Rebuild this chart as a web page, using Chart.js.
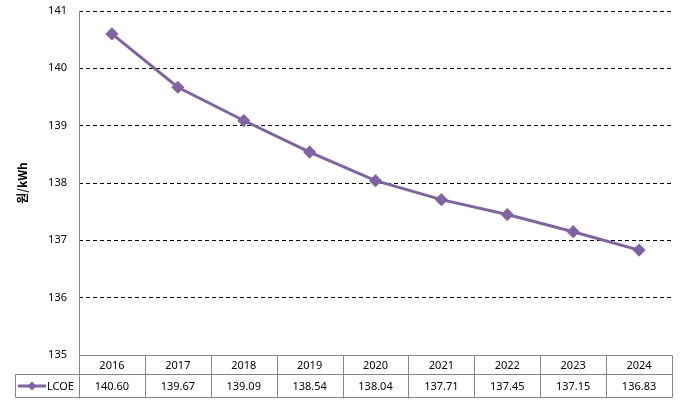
<!DOCTYPE html>
<html>
<head>
<meta charset="utf-8">
<script src="https://cdn.jsdelivr.net/npm/chart.js@4"></script>
<style>
  html, body { margin: 0; padding: 0; background: #fff; }
</style>
</head>
<body>
<canvas id="chartLcoe" width="680" height="403"></canvas>
<script>
// ===============================
// DADOS
// ===============================
const years = ["2016", "2017", "2018", "2019", "2020", "2021", "2022", "2023", "2024"];
const lcoe = [140.60, 139.67, 139.09, 138.54, 138.04, 137.71, 137.45, 137.15, 136.83];
const yTicks = [135, 136, 137, 138, 139, 140, 141];
const seriesName = "LCOE";
const yTitle = "원/kWh";

const lineColor = "#8064A2";
const borderGray = "#868686";
const font = "11px 'Noto Sans', 'DejaVu Sans', sans-serif";

// ===============================
// TABELA DE DADOS + TITULO Y
// ===============================
const dataTable = {
    id: "dataTable",
    beforeDatasetsDraw(chart) {
        const { ctx, chartArea: a } = chart;
        ctx.save();
        ctx.strokeStyle = borderGray;
        ctx.lineWidth = 1;
        ctx.beginPath();
        ctx.moveTo(Math.round(a.left) + 0.5, a.top);
        ctx.lineTo(Math.round(a.left) + 0.5, a.bottom);
        ctx.stroke();
        ctx.restore();
    },
    afterDraw(chart) {
        const { ctx, chartArea: a } = chart;
        const n = years.length;
        const colW = (a.right - a.left) / n;
        const top = Math.round(a.bottom) + 0.5;
        const mid = top + 19;
        const bot = mid + 23;
        const legL = 15.5;
        const L = Math.round(a.left) + 0.5;
        const R = Math.round(a.right) + 0.5;

        ctx.save();
        ctx.strokeStyle = borderGray;
        ctx.lineWidth = 1;
        ctx.beginPath();
        ctx.moveTo(L, top); ctx.lineTo(R, top);
        ctx.moveTo(legL, mid); ctx.lineTo(R, mid);
        ctx.moveTo(legL, bot); ctx.lineTo(R, bot);
        ctx.moveTo(legL, mid); ctx.lineTo(legL, bot);
        ctx.moveTo(L, top); ctx.lineTo(L, bot);
        for (let i = 1; i <= n; i++) {
            const x = Math.round(a.left + colW * i) + 0.5;
            ctx.moveTo(x, top); ctx.lineTo(x, bot);
        }
        ctx.stroke();

        ctx.fillStyle = "#000";
        ctx.font = font;
        ctx.textAlign = "center";
        ctx.textBaseline = "middle";
        years.forEach((y, i) => {
            const cx = a.left + colW * (i + 0.5);
            ctx.fillText(y, cx, (top + mid) / 2 + 1);
            ctx.fillText(lcoe[i].toFixed(2), cx, (mid + bot) / 2 + 1);
        });

        // legenda da serie
        const ly = (mid + bot) / 2;
        ctx.strokeStyle = lineColor;
        ctx.lineWidth = 3;
        ctx.beginPath();
        ctx.moveTo(18, ly); ctx.lineTo(46, ly);
        ctx.stroke();
        ctx.fillStyle = lineColor;
        ctx.beginPath();
        ctx.moveTo(32, ly - 4.5); ctx.lineTo(36.5, ly); ctx.lineTo(32, ly + 4.5); ctx.lineTo(27.5, ly);
        ctx.closePath();
        ctx.fill();
        ctx.fillStyle = "#000";
        ctx.textAlign = "left";
        ctx.fillText(seriesName, 47, ly + 1);

        // titulo do eixo Y
        ctx.translate(22, (a.top + a.bottom) / 2);
        ctx.rotate(-Math.PI / 2);
        ctx.textAlign = "center";
        ctx.font = "bold 12px 'Noto Sans CJK KR', sans-serif";
        ctx.fillText(yTitle, 0, 0);
        ctx.restore();
    }
};

// ===============================
// LINHA — LCOE
// ===============================
new Chart(document.getElementById("chartLcoe"), {
    type: "line",
    data: {
        labels: years,
        datasets: [{
            label: seriesName,
            data: lcoe,
            borderColor: lineColor,
            backgroundColor: lineColor,
            borderWidth: 3,
            pointStyle: "rectRot",
            pointRadius: 4.5,
            pointHoverRadius: 4.5,
            tension: 0
        }]
    },
    options: {
        responsive: false,
        animation: false,
        devicePixelRatio: 1,
        layout: { padding: { top: 11, right: 8, bottom: 6, left: 0 } },
        plugins: { legend: { display: false }, tooltip: { enabled: false } },
        scales: {
            x: {
                offset: true,
                grid: { display: false, drawTicks: false },
                border: { display: false },
                ticks: { display: false },
                afterFit: (s) => { s.height = 42; }
            },
            y: {
                min: yTicks[0],
                max: yTicks[yTicks.length - 1],
                afterBuildTicks: (s) => { s.ticks = yTicks.map(v => ({ value: v })); },
                grid: {
                    drawTicks: false,
                    color: (c) => c.tick && c.tick.value === yTicks[0] ? "rgba(0,0,0,0)" : "#000",
                    lineWidth: 1
                },
                border: { display: false, dash: [4, 3] },
                ticks: {
                    autoSkip: false,
                    padding: 12,
                    color: "#000",
                    font: { family: "'Noto Sans', 'DejaVu Sans', sans-serif", size: 11 }
                },
                afterFit: (s) => {
                    s.width = 79;
                    s.paddingTop = 0;
                    s.paddingBottom = 0;
                }
            }
        }
    },
    plugins: [dataTable]
});
</script>
</body>
</html>
